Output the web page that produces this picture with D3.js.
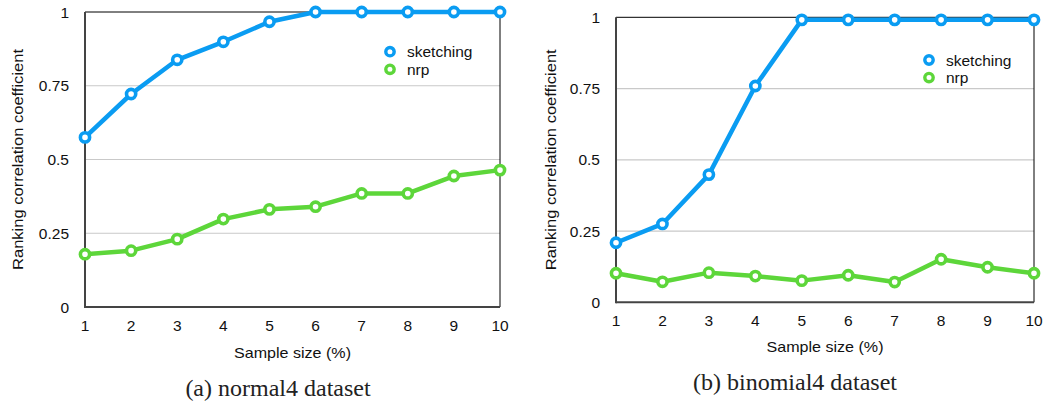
<!DOCTYPE html>
<html><head><meta charset="utf-8">
<script src="https://cdn.jsdelivr.net/npm/d3@7"></script>
<style>body{margin:0;background:#fff}svg{display:block}
.sans{font-family:'Liberation Sans',Arial,Helvetica,sans-serif}
.serif{font-family:'Liberation Serif','Times New Roman',serif}</style>
</head><body>
<svg id="c" width="1045" height="406"></svg>
<script>
const sampleSizes = [1,2,3,4,5,6,7,8,9,10];
const yTicks = [0,0.25,0.5,0.75,1];
const yTickLabels = ["0","0.25","0.5","0.75","1"];
const seriesNames = ["sketching","nrp"];
const normalSketching = [0.575,0.722,0.838,0.899,0.967,1.0,1.0,1.0,1.0,1.0];
const normalNrp = [0.179,0.191,0.230,0.298,0.331,0.340,0.385,0.385,0.444,0.464];
const binomialSketching = [0.209,0.275,0.448,0.759,0.991,0.991,0.991,0.991,0.991,0.991];
const binomialNrp = [0.102,0.072,0.104,0.092,0.076,0.095,0.071,0.151,0.123,0.102];
const captions = ["(a) normal4 dataset","(b) binomial4 dataset"];
const colors = ["#0a9cf2","#5dd63a"];

const svg = d3.select("#c");
const panels = [
  {l:85,r:500,t:12,b:307, data:[normalSketching,normalNrp], cap:captions[0], capX:278, capY:396,
   legX:390, legY:51.7, yTitleX:18, xTitleY:353, tickLabelX:69},
  {l:616,r:1034,t:17.3,b:302.3, data:[binomialSketching,binomialNrp], cap:captions[1], capX:795, capY:390,
   legX:929, legY:60, yTitleX:551, xTitleY:347, tickLabelX:600}
];

panels.forEach(p => {
  const x = d3.scaleLinear().domain([1,10]).range([p.l,p.r]);
  const y = d3.scaleLinear().domain([0,1]).range([p.b,p.t]);
  const g = svg.append("g");
  g.selectAll("line.grid").data(yTicks.slice(1,4)).join("line")
    .attr("x1",p.l).attr("x2",p.r).attr("y1",d=>y(d)).attr("y2",d=>y(d))
    .attr("stroke","#c9c9c9").attr("stroke-width",1.2);
  g.append("line").attr("x1",p.l).attr("x2",p.r).attr("y1",p.t).attr("y2",p.t).attr("stroke","#000").attr("stroke-width",1);
  g.append("line").attr("x1",p.r).attr("x2",p.r).attr("y1",p.t).attr("y2",p.b).attr("stroke","#000").attr("stroke-width",1);
  g.append("line").attr("x1",p.l).attr("x2",p.l).attr("y1",p.t).attr("y2",p.b+1).attr("stroke","#444").attr("stroke-width",2);
  g.append("line").attr("x1",p.l).attr("x2",p.r).attr("y1",p.b).attr("y2",p.b).attr("stroke","#444").attr("stroke-width",2);
  g.selectAll("text.yt").data(yTicks).join("text").attr("class","sans")
    .attr("x",p.tickLabelX).attr("y",d=>y(d)).attr("dy","0.36em")
    .attr("text-anchor","end").attr("font-size",15.5).attr("fill","#111")
    .text((d,i)=>yTickLabels[i]);
  g.selectAll("text.xt").data(sampleSizes).join("text").attr("class","sans")
    .attr("x",d=>x(d)).attr("y",p.b+18).attr("dy","0.36em")
    .attr("text-anchor","middle").attr("font-size",15.5).attr("fill","#111")
    .text(d=>d);
  g.append("text").attr("class","sans").attr("x",(p.l+p.r)/2).attr("y",p.xTitleY).attr("dy","0.36em").attr("text-anchor","middle")
    .attr("font-size",14.5).attr("fill","#111")
    .attr("textLength",117).attr("lengthAdjust","spacingAndGlyphs").text("Sample size (%)");
  g.append("text").attr("class","sans").attr("transform",`translate(${p.yTitleX},${(p.t+p.b)/2}) rotate(-90)`)
    .attr("text-anchor","middle").attr("dy","0.36em")
    .attr("font-size",14.5).attr("fill","#111")
    .attr("textLength",221).attr("lengthAdjust","spacingAndGlyphs").text("Ranking correlation coefficient");
  const line = d3.line().x((d,i)=>x(sampleSizes[i])).y(d=>y(d));
  p.data.forEach((vals,si) => {
    g.append("path").datum(vals).attr("d",line).attr("fill","none")
      .attr("stroke",colors[si]).attr("stroke-width",4.5).attr("stroke-linejoin","round");
  });
  p.data.forEach((vals,si) => {
    g.selectAll(null).data(vals).join("circle")
      .attr("cx",(d,i)=>x(sampleSizes[i])).attr("cy",d=>y(d)).attr("r",4.6)
      .attr("fill","#fff").attr("stroke",colors[si]).attr("stroke-width",3.6);
  });
  seriesNames.forEach((n,si) => {
    const ly = p.legY + si*17.6;
    g.append("circle").attr("cx",p.legX).attr("cy",ly).attr("r",4.2)
      .attr("fill","#fff").attr("stroke",colors[si]).attr("stroke-width",3.4);
    g.append("text").attr("class","sans").attr("x",p.legX+17).attr("y",ly).attr("dy","0.36em")
      .attr("font-size",15.5).attr("fill","#111").text(n);
  });
  g.append("text").attr("class","serif").attr("x",p.capX).attr("y",p.capY).attr("text-anchor","middle")
    .attr("font-size",24).attr("fill","#222").text(p.cap);
});
</script>
</body></html>
